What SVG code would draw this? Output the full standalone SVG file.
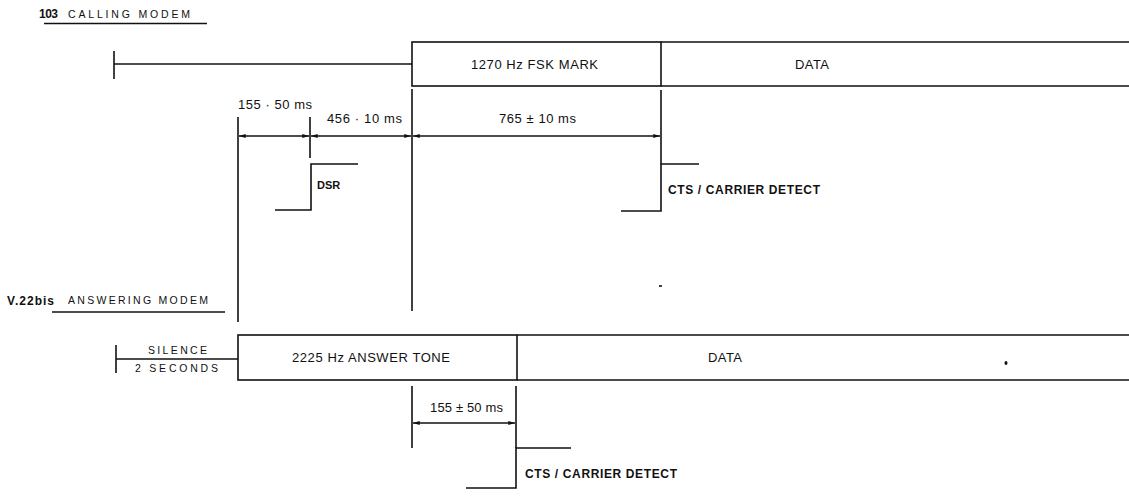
<svg xmlns="http://www.w3.org/2000/svg" width="1129" height="498" viewBox="0 0 1129 498">
<style>
.ln{stroke:#111;stroke-width:1.6;fill:none}
.bx{stroke:#111;stroke-width:1.6;fill:#fff}
.t{font-family:"Liberation Sans",Arial,sans-serif;fill:#111;font-size:10.5px}
.m{font-family:"Liberation Sans",Arial,sans-serif;fill:#111;font-size:13px}
.tb{font-family:"Liberation Sans",Arial,sans-serif;fill:#111;font-size:12px;font-weight:bold}
.dim{stroke:#111;stroke-width:1.4;fill:none;marker-start:url(#a);marker-end:url(#a)}
</style>
<defs>
<marker id="a" viewBox="0 0 10 6" refX="10" refY="3" markerWidth="7" markerHeight="4" markerUnits="userSpaceOnUse" orient="auto-start-reverse">
<path d="M0,0 L10,3 L0,6 z" fill="#111"/>
</marker>
</defs>
<rect width="1129" height="498" fill="#fff"/>

<g id="calling-title">
<text class="tb" x="39" y="18" textLength="19">103</text>
<text class="t" x="68" y="18" textLength="122">CALLING MODEM</text>
<line class="ln" x1="44" y1="23.5" x2="207" y2="23.5"/>
</g>

<g id="calling-idle">
<line class="ln" x1="114" y1="51" x2="114" y2="79"/>
<line class="ln" x1="114" y1="64" x2="412" y2="64"/>
</g>

<g id="fsk-mark">
<rect class="bx" x="412" y="42" width="249" height="44"/>
<text class="m" x="471" y="69" textLength="127">1270 Hz FSK MARK</text>
</g>

<g id="calling-data">
<path class="ln" d="M661,42 H1131 M661,86 H1131"/>
<text class="m" x="795" y="69" textLength="34">DATA</text>
</g>

<g id="dsr">
<path class="ln" d="M275,210 H311 V164 H358"/>
<text class="tb" x="317" y="189" style="font-size:11px">DSR</text>
</g>

<g id="cts-calling">
<path class="ln" d="M621,211 H661 V164 H699"/>
<text class="tb" x="668" y="194" textLength="152">CTS / CARRIER DETECT</text>
</g>

<g id="answering-title">
<text class="tb" x="7" y="305" textLength="47">V.22bis</text>
<text class="t" x="68" y="304" textLength="140">ANSWERING MODEM</text>
<line class="ln" x1="52" y1="312" x2="225" y2="312"/>
</g>

<g id="silence">
<line class="ln" x1="116" y1="345" x2="116" y2="373"/>
<line class="ln" x1="116" y1="359" x2="238" y2="359"/>
<text class="t" x="148" y="354" textLength="59">SILENCE</text>
<text class="t" x="135" y="372" textLength="83">2 SECONDS</text>
</g>

<g id="answer-tone">
<rect class="bx" x="238" y="335" width="279" height="45"/>
<text class="m" x="292" y="362" textLength="158">2225 Hz ANSWER TONE</text>
</g>

<g id="answering-data">
<path class="ln" d="M517,335 H1131 M517,380 H1131"/>
<text class="m" x="708" y="362" textLength="34">DATA</text>
<ellipse cx="1006" cy="363" rx="1.5" ry="2" fill="#111"/>
</g>

<g id="cts-answering">
<path class="ln" d="M466,488 H516 V448 H571"/>
<text class="tb" x="525" y="478" textLength="152">CTS / CARRIER DETECT</text>
</g>

<g id="connectors">
<line class="ln" x1="238" y1="117" x2="238" y2="322"/>
<line class="ln" x1="310" y1="117" x2="310" y2="158"/>
<line class="ln" x1="412" y1="89" x2="412" y2="311"/>
<line class="ln" x1="661" y1="90" x2="661" y2="164"/>
<line class="ln" x1="412" y1="386" x2="412" y2="448"/>
<line class="ln" x1="516" y1="386" x2="516" y2="448"/>
<line x1="659" y1="286" x2="662" y2="286" stroke="#111" stroke-width="1.6"/>
<line class="dim" x1="239" y1="136" x2="309" y2="136"/>
<line class="dim" x1="311" y1="136" x2="411" y2="136"/>
<line class="dim" x1="413" y1="136" x2="660" y2="136"/>
<line class="dim" x1="413" y1="423" x2="515" y2="423"/>
<text class="m" x="238" y="109" textLength="74">155 · 50 ms</text>
<text class="m" x="327" y="123" textLength="75">456 · 10 ms</text>
<text class="m" x="499" y="123" textLength="77">765 ± 10 ms</text>
<text class="m" x="430" y="412" textLength="73">155 ± 50 ms</text>
</g>
</svg>
